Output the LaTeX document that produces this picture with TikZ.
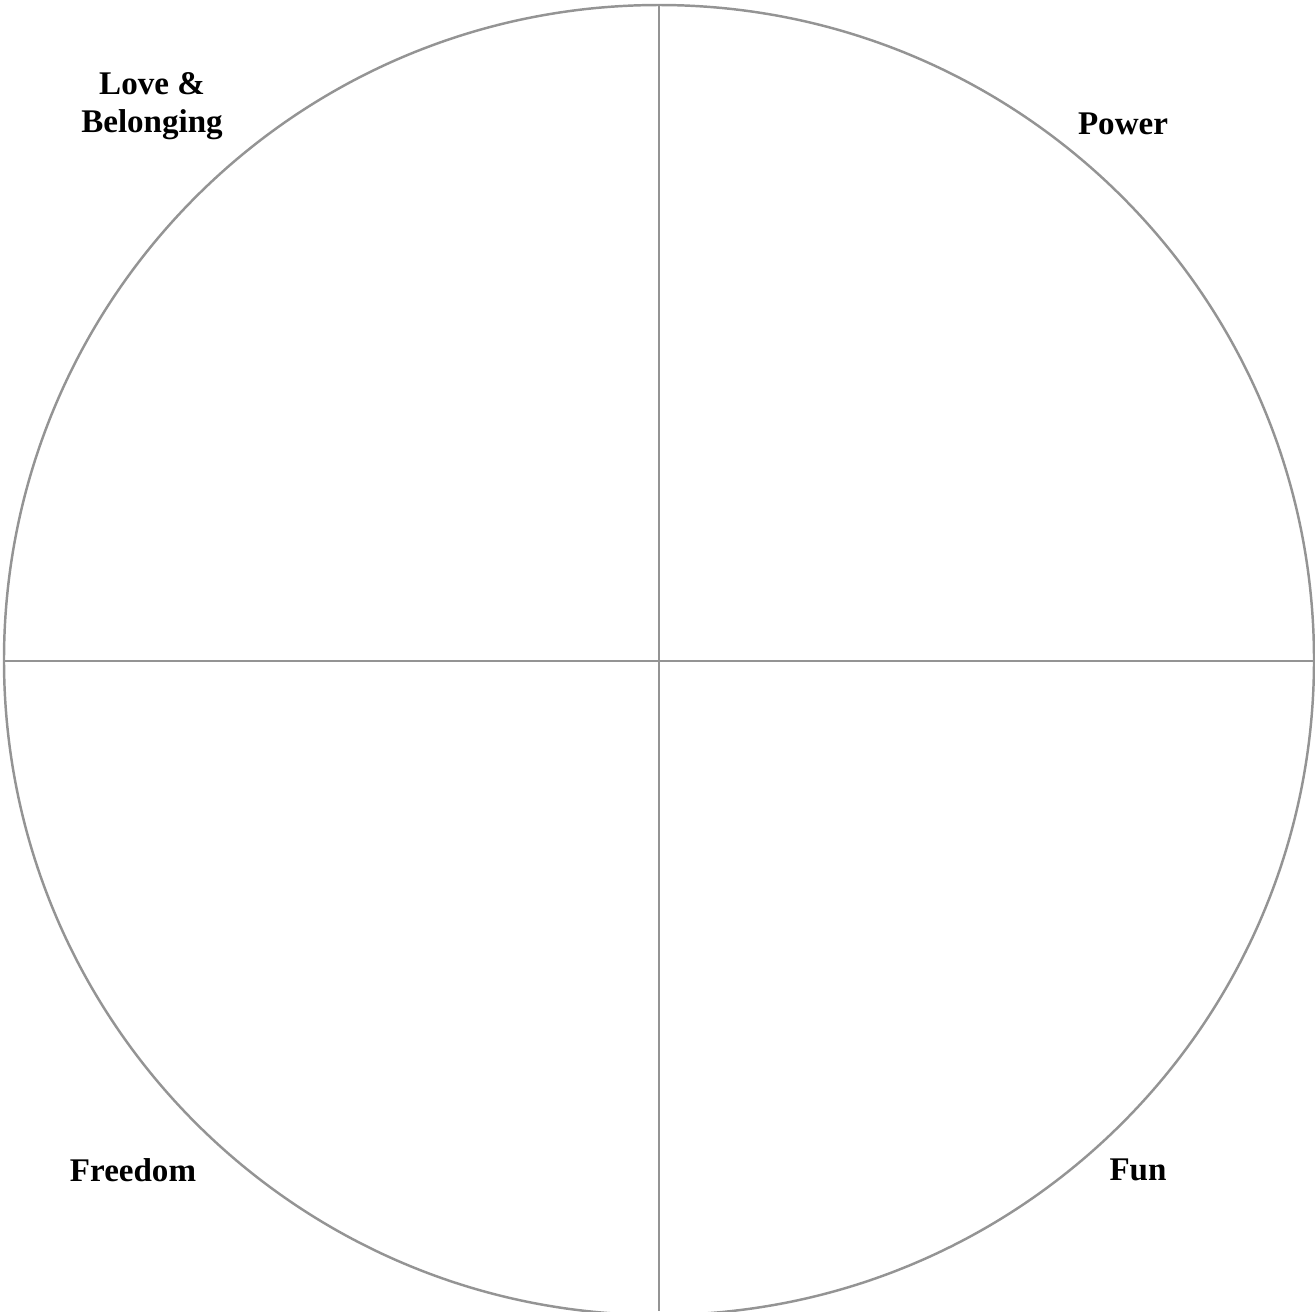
\documentclass[tikz,border=0pt]{standalone}
\usepackage{fontspec}
\setmainfont{Liberation Serif}
\usepackage{tikz}

\begin{document}
\begin{tikzpicture}[x=0.01cm,y=-0.01cm,line width=0.7pt]
  \tikzset{need/.style={font=\bfseries\fontsize{9.4}{10.9}\selectfont,align=center}}
  \useasboundingbox (0,0) rectangle (1315,1311);
  \coordinate (C) at (659,660);
  \coordinate (N) at (659,5);
  \coordinate (S) at (659,1311);
  \coordinate (W) at (4,661);
  \coordinate (E) at (1315,661);

  \draw[black!42] (C) circle (655);
  \draw[black!42] (N) -- (S);
  \draw[black!42] (W) -- (E);

  \node[need] (love) at (152,106) {Love \&\\Belonging};
  \node[need] (power) at (1123,124) {Power};
  \node[need] (freedom) at (133,1170) {Freedom};
  \node[need] (fun) at (1138,1170) {Fun};
\end{tikzpicture}
\end{document}
